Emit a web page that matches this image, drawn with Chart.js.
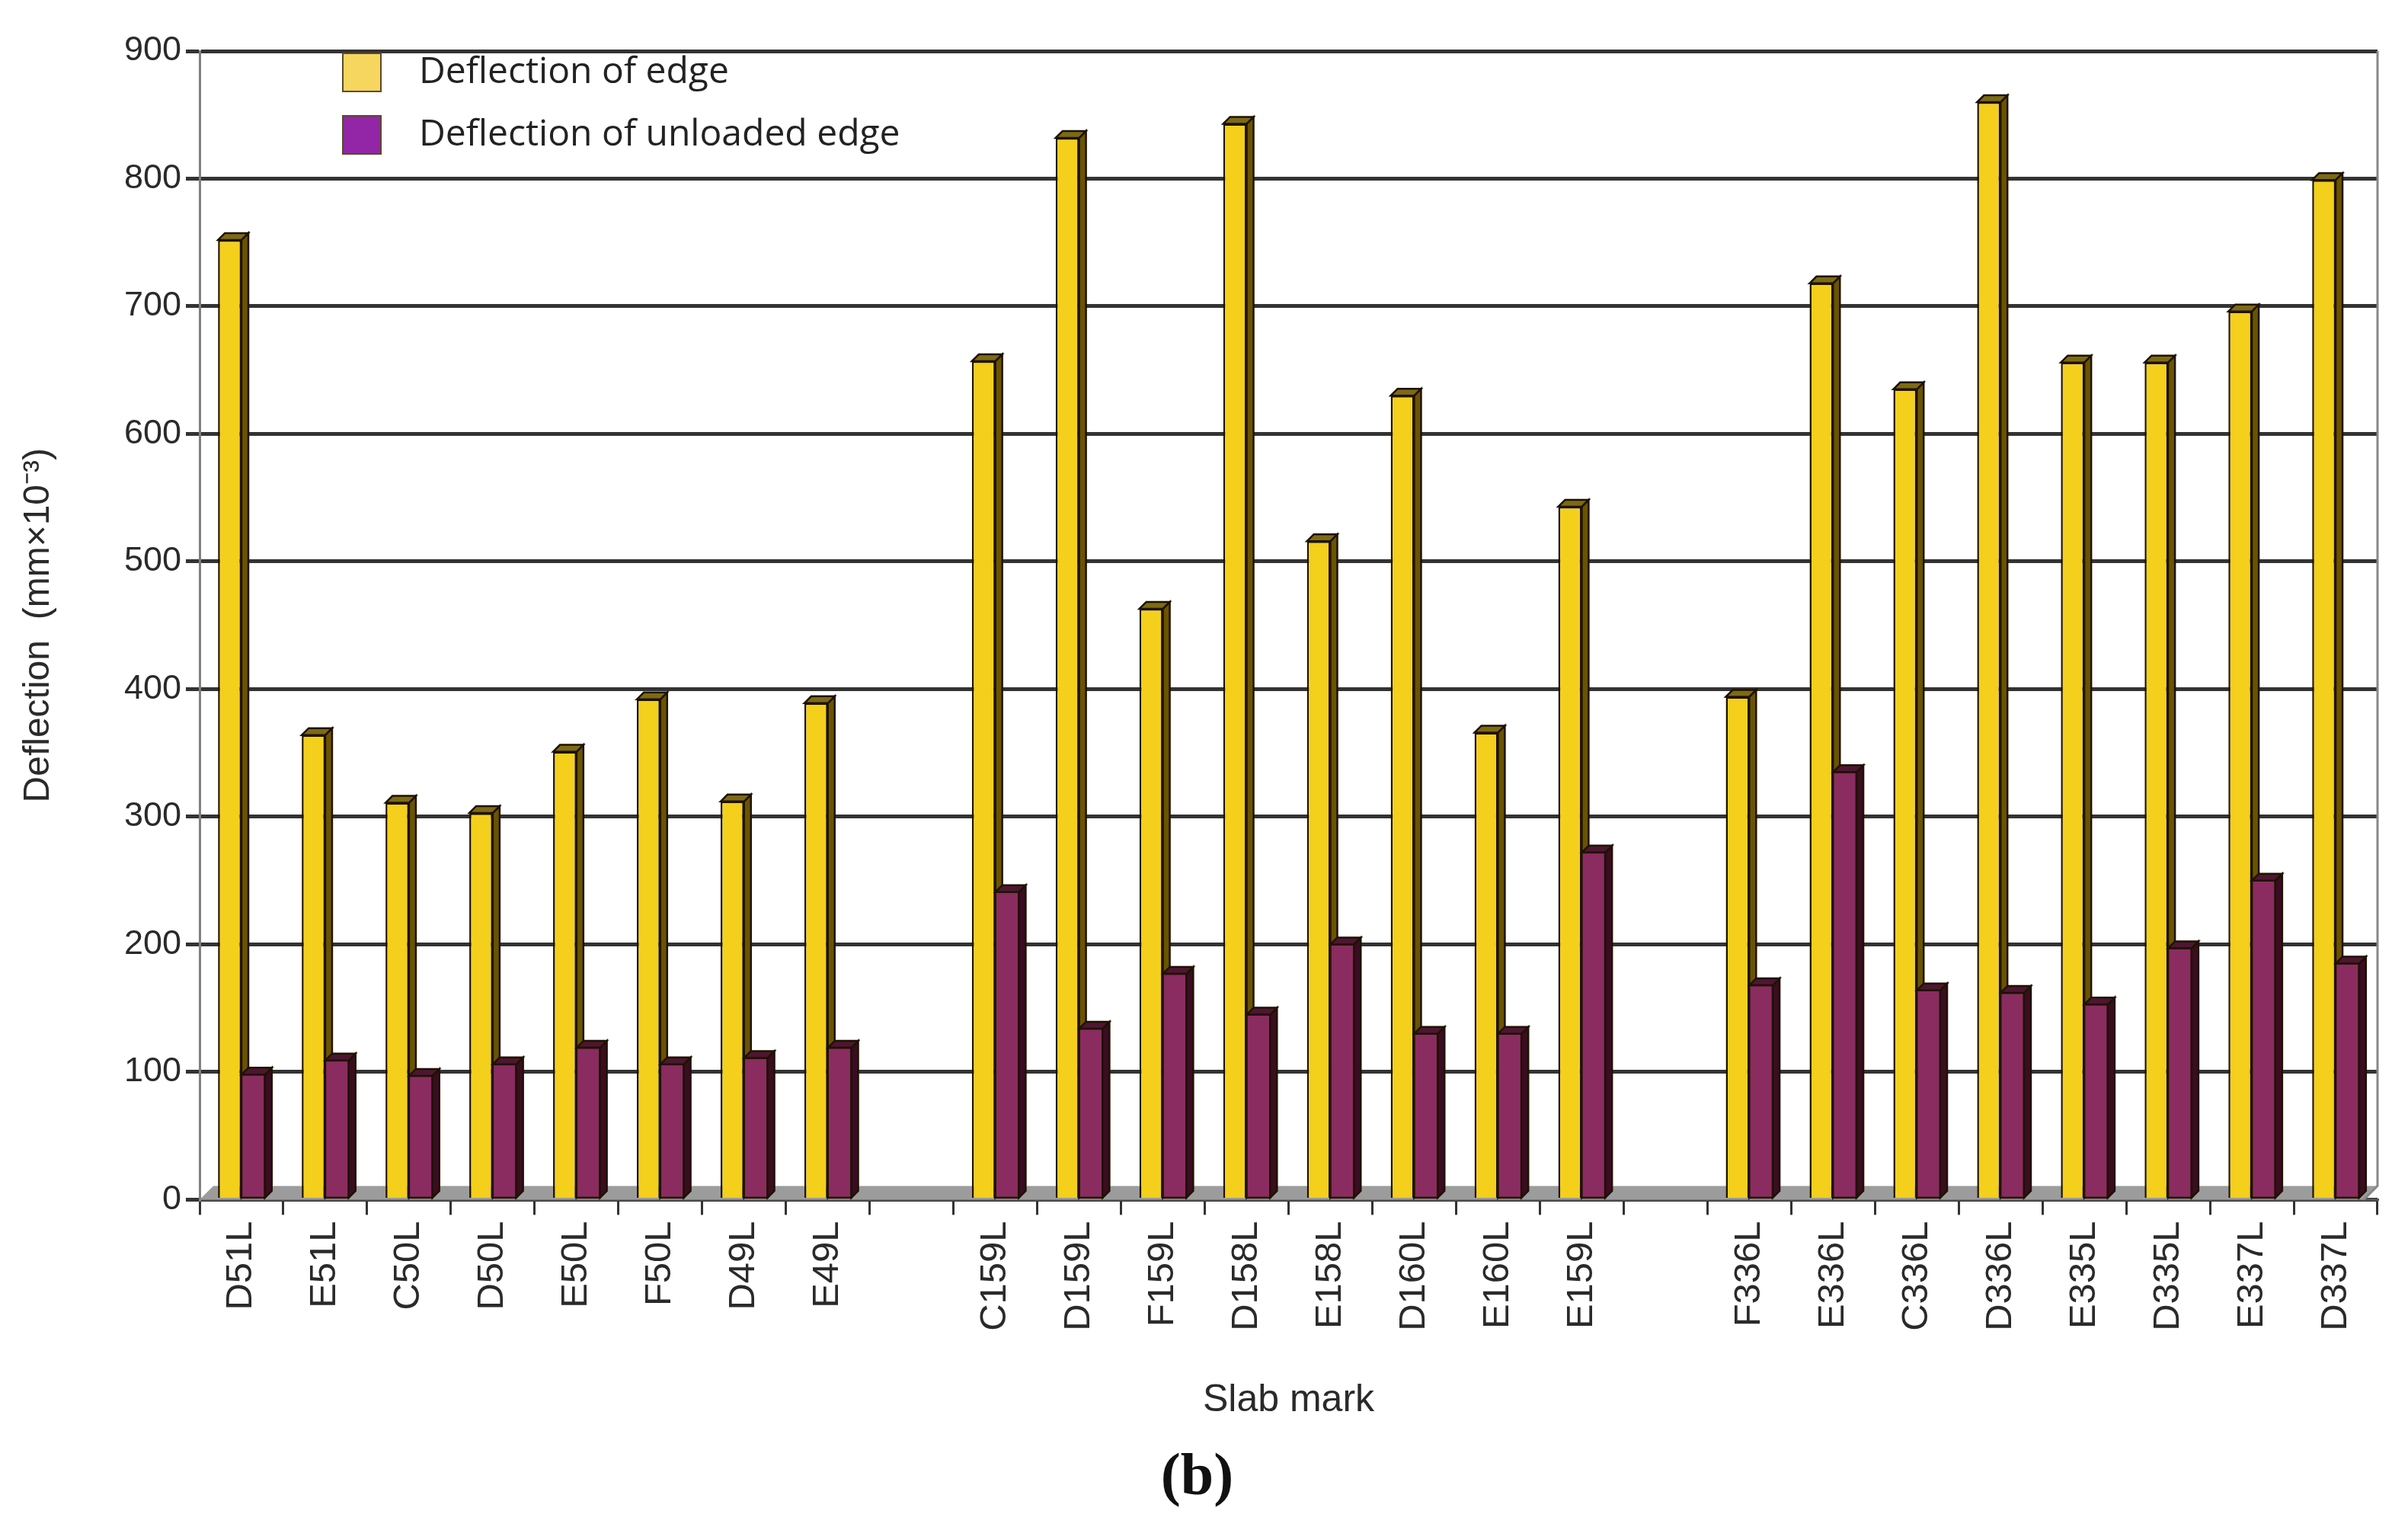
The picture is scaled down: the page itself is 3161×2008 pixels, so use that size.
<!DOCTYPE html>
<html>
<head>
<meta charset="utf-8">
<script src="https://cdn.jsdelivr.net/npm/chart.js@4/dist/chart.umd.min.js"></script>
<style>
  html, body { margin: 0; padding: 0; background: #fff; }
  canvas { display: block; }
</style>
</head>
<body>
<canvas id="deflChart" width="3161" height="2008"></canvas>
<script>
// slab marks, '' = gap between the three groups
const slabMarks = [
    'D51L', 'E51L', 'C50L', 'D50L', 'E50L', 'F50L', 'D49L', 'E49L', '',
    'C159L', 'D159L', 'F159L', 'D158L', 'E158L', 'D160L', 'E160L', 'E159L', '',
    'F336L', 'E336L', 'C336L', 'D336L', 'E335L', 'D335L', 'E337L', 'D337L'
];

// deflection (mm x 10^-3)
const edgeDefl = [
    752, 364, 311, 303, 351, 392, 312, 389, null,
    657, 832, 463, 843, 516, 630, 366, 543, null,
    394, 718, 635, 860, 656, 656, 696, 799
];
const unloadedDefl = [
    98, 109, 97, 106, 119, 106, 111, 119, null,
    241, 134, 177, 145, 200, 130, 130, 272, null,
    168, 335, 164, 162, 153, 197, 250, 185
];

const yTicks = [0, 100, 200, 300, 400, 500, 600, 700, 800, 900];

const DEPTH = 9;

// grey floor + right wall line
const floorPlugin = {
    id: 'floor',
    beforeDatasetsDraw(chart) {
        const { ctx, chartArea: a } = chart;
        const d = 18;
        ctx.save();
        ctx.fillStyle = '#9c9c9c';
        ctx.beginPath();
        ctx.moveTo(a.left, a.bottom);
        ctx.lineTo(a.left + d, a.bottom - d);
        ctx.lineTo(a.right, a.bottom - d);
        ctx.lineTo(a.right - d, a.bottom);
        ctx.closePath();
        ctx.fill();
        ctx.strokeStyle = '#888';
        ctx.lineWidth = 3;
        ctx.beginPath();
        ctx.moveTo(a.right, a.top);
        ctx.lineTo(a.right, a.bottom - d);
        ctx.lineTo(a.right - d, a.bottom);
        ctx.stroke();
        ctx.restore();
    }
};

// side and top faces of the bars
function drawBox(ctx, bar, front, side, top, redrawFront) {
    const half = bar.width / 2;
    const l = bar.x - half, r = bar.x + half;
    const y = bar.y, b = bar.base;
    ctx.strokeStyle = '#1e1200';
    ctx.lineWidth = 2.5;
    if (redrawFront) {
        ctx.fillStyle = front;
        ctx.fillRect(l, y, r - l, b - y);
        ctx.strokeRect(l, y, r - l, b - y);
    }
    ctx.fillStyle = side;
    ctx.beginPath();
    ctx.moveTo(r, y);
    ctx.lineTo(r + DEPTH, y - DEPTH);
    ctx.lineTo(r + DEPTH, b - DEPTH);
    ctx.lineTo(r, b);
    ctx.closePath();
    ctx.fill();
    ctx.stroke();
    ctx.fillStyle = top;
    ctx.beginPath();
    ctx.moveTo(l, y);
    ctx.lineTo(l + DEPTH, y - DEPTH);
    ctx.lineTo(r + DEPTH, y - DEPTH);
    ctx.lineTo(r, y);
    ctx.closePath();
    ctx.fill();
    ctx.stroke();
}

const boxPlugin = {
    id: 'box3d',
    afterDatasetsDraw(chart) {
        const ctx = chart.ctx;
        const yellow = chart.getDatasetMeta(0).data;
        const purple = chart.getDatasetMeta(1).data;
        ctx.save();
        for (let i = 0; i < slabMarks.length; i++) {
            if (edgeDefl[i] !== null) {
                drawBox(ctx, yellow[i], '#f4cf1c', '#6b5400', '#7d6a14', false);
            }
            if (unloadedDefl[i] !== null) {
                drawBox(ctx, purple[i], '#8a2c5f', '#3b0c22', '#4e1631', true);
            }
        }
        ctx.restore();
    }
};

// legend sitting inside the plot, top left
const boxLegend = {
    id: 'boxLegend',
    afterDraw(chart) {
        const ctx = chart.ctx;
        const swatches = ['#f6d65e', '#9226a6'];
        ctx.save();
        ctx.font = "48px 'Open Sans', 'Liberation Sans', sans-serif";
        ctx.textBaseline = 'middle';
        chart.data.datasets.forEach((ds, i) => {
            const cy = 95 + i * 82;
            ctx.fillStyle = swatches[i];
            ctx.fillRect(450, cy - 25, 50, 50);
            ctx.strokeStyle = '#5a4a2a';
            ctx.lineWidth = 2;
            ctx.strokeRect(450, cy - 25, 50, 50);
            ctx.fillStyle = '#222';
            ctx.fillText(ds.label, 550, cy);
        });
        ctx.restore();
    }
};

const deflChart = document.getElementById('deflChart').getContext('2d');
new Chart(deflChart, {
    type: 'bar',
    data: {
        labels: slabMarks,
        datasets: [{
            label: 'Deflection of edge',
            data: edgeDefl,
            backgroundColor: '#f4cf1c',
            borderColor: '#1e1200',
            borderWidth: 2.5,
            barPercentage: 1.0,
            categoryPercentage: 0.56
        }, {
            label: 'Deflection of unloaded edge',
            data: unloadedDefl,
            backgroundColor: '#8a2c5f',
            borderColor: '#1e1200',
            borderWidth: 2.5,
            barPercentage: 1.0,
            categoryPercentage: 0.56
        }]
    },
    options: {
        responsive: false,
        devicePixelRatio: 1,
        animation: false,
        layout: { padding: { top: 67, right: 40, left: 22, bottom: 0 } },
        scales: {
            x: {
                grid: {
                    display: true,
                    drawOnChartArea: false,
                    drawTicks: true,
                    tickLength: 20,
                    color: '#333',
                    lineWidth: 3,
                    offset: true
                },
                border: { display: true, color: '#555', width: 3 },
                ticks: {
                    autoSkip: false,
                    minRotation: 90,
                    maxRotation: 90,
                    padding: 8,
                    color: '#2a2a2a',
                    font: { family: "'Liberation Sans', Arial, sans-serif", size: 49 }
                },
                title: {
                    display: true,
                    text: 'Slab mark',
                    color: '#2a2a2a',
                    padding: { top: 10, bottom: 8 },
                    font: { family: "'Liberation Sans', Arial, sans-serif", size: 50 }
                },
                afterFit(scale) { scale.height = 302; }
            },
            y: {
                min: 0,
                max: 900,
                afterBuildTicks(scale) { scale.ticks = yTicks.map(v => ({ value: v })); },
                grid: {
                    color: '#333',
                    lineWidth: 5,
                    tickLength: 18
                },
                border: { display: true, color: '#808080', width: 3 },
                ticks: {
                    padding: 6,
                    color: '#2a2a2a',
                    font: { family: "'Liberation Sans', Arial, sans-serif", size: 45 }
                },
                title: {
                    display: true,
                    text: 'Deflection  (mm×10⁻³)',
                    color: '#2a2a2a',
                    padding: 0,
                    font: { family: "'Liberation Sans', Arial, sans-serif", size: 48 }
                },
                afterFit(scale) { scale.width = 240; }
            }
        },
        plugins: {
            legend: { display: false },
            tooltip: { enabled: false },
            title: {
                display: true,
                text: '(b)',
                position: 'bottom',
                color: '#111',
                padding: { top: 18, bottom: 20 },
                font: { family: "'Liberation Serif', 'Times New Roman', serif", size: 78, weight: 'bold' }
            }
        }
    },
    plugins: [floorPlugin, boxPlugin, boxLegend]
});
</script>
</body>
</html>
